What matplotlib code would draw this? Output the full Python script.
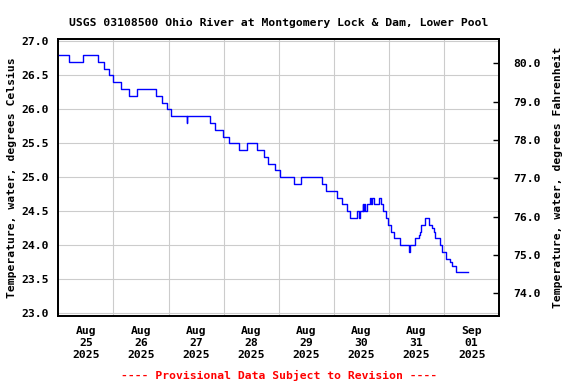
import pandas as pd
import matplotlib
matplotlib.use("Agg")
import matplotlib.pyplot as plt
import matplotlib.dates as mdates

# water temperature, deg C (hours after 2025-08-25 00:00)
hours = [0.0, 4.75, 10.75, 17.5, 19.75, 22.0, 24.0, 27.5, 30.75, 34.25,
         42.75, 45.25, 47.5, 49.0, 56.0, 56.25, 66.25, 68.25, 71.75, 74.5,
         78.5, 82.0, 86.5, 89.75, 91.25, 94.25, 96.5, 102.5, 105.75, 115.0,
         116.5, 121.25, 123.5, 125.5, 127.0, 130.25, 131.0, 131.25, 132.5, 132.75,
         133.25, 133.5, 134.5, 135.75, 136.25, 136.75, 137.25, 139.5, 140.5, 141.5,
         142.5, 143.75, 145.0, 146.0, 148.75, 152.5, 153.25, 155.5, 157.0, 157.5,
         158.0, 159.5, 161.25, 162.75, 163.5, 164.0, 166.0, 167.25, 169.0, 170.5,
         171.25, 173.0, 178.5]
temp_c = [26.8, 26.7, 26.8, 26.7, 26.6, 26.5, 26.4, 26.3, 26.2, 26.3,
          26.2, 26.1, 26.0, 25.9, 25.8, 25.9, 25.8, 25.7, 25.6, 25.5,
          25.4, 25.5, 25.4, 25.3, 25.2, 25.1, 25.0, 24.9, 25.0, 24.9,
          24.8, 24.7, 24.6, 24.5, 24.4, 24.5, 24.4, 24.5, 24.6, 24.5,
          24.6, 24.5, 24.6, 24.7, 24.6, 24.7, 24.6, 24.7, 24.6, 24.5,
          24.4, 24.3, 24.2, 24.1, 24.0, 23.9, 24.0, 24.1, 24.15, 24.2,
          24.3, 24.4, 24.3, 24.25, 24.2, 24.1, 24.0, 23.9, 23.8, 23.75,
          23.7, 23.6, 23.6]

start = pd.Timestamp("2025-08-25")
times = start + pd.to_timedelta(hours, unit="h")

day_labels = ["Aug\n25\n2025", "Aug\n26\n2025", "Aug\n27\n2025", "Aug\n28\n2025",
              "Aug\n29\n2025", "Aug\n30\n2025", "Aug\n31\n2025", "Sep\n01\n2025"]
c_ticks = [23.0, 23.5, 24.0, 24.5, 25.0, 25.5, 26.0, 26.5, 27.0]
f_ticks = [74.0, 75.0, 76.0, 77.0, 78.0, 79.0, 80.0]

font = dict(family="DejaVu Sans Mono", weight="bold", size=8.2)

fig = plt.figure(figsize=(5.76, 3.84), dpi=100)
ax = fig.add_axes([0.1012, 0.1771, 0.7656, 0.7206])

ax.step(times, temp_c, where="post", color="#0000ff", lw=1.0, zorder=3)

ax.set_xlim(start, start + pd.Timedelta(days=8))
ax.set_ylim(22.96, 27.03)

midnights = [start + pd.Timedelta(days=d) for d in range(1, 8)]
ax.set_xticks(midnights, minor=True)
ax.grid(which="minor", axis="x", color="#cccccc", lw=0.8)
noons = [start + pd.Timedelta(hours=12 + 24 * d) for d in range(8)]
ax.set_xticks(noons)
ax.set_xticklabels(day_labels, fontdict=font, linespacing=1.25)
ax.tick_params(axis="x", which="both", length=0, pad=7)

ax.set_yticks(c_ticks)
ax.set_yticklabels(["%.1f" % v for v in c_ticks], fontdict=font)
ax.tick_params(axis="y", length=0, pad=7)
ax.grid(axis="y", color="#cccccc", lw=0.8)
ax.set_axisbelow(True)

ax2 = ax.twinx()
ax2.set_ylim(73.41, 80.63)
ax2.set_yticks(f_ticks)
ax2.set_yticklabels(["%.1f" % v for v in f_ticks], fontdict=font)
ax2.tick_params(axis="y", direction="in", length=4, width=1, pad=10)

for a in (ax, ax2):
    for s in a.spines.values():
        s.set_linewidth(1.3)
        s.set_color("black")

fig.text(0.484, 0.9406, "USGS 03108500 Ohio River at Montgomery Lock & Dam, Lower Pool",
         ha="center", va="center", **font)
fig.text(0.0208, 0.5375, "Temperature, water, degrees Celsius",
         rotation=90, ha="center", va="center", **font)
fig.text(0.969, 0.5375, "Temperature, water, degrees Fahrenheit",
         rotation=90, ha="center", va="center", **font)
fig.text(0.484, 0.0234, "---- Provisional Data Subject to Revision ----",
         ha="center", va="center", color="#ff0000", **font)

fig.savefig("out.png", dpi=100)
